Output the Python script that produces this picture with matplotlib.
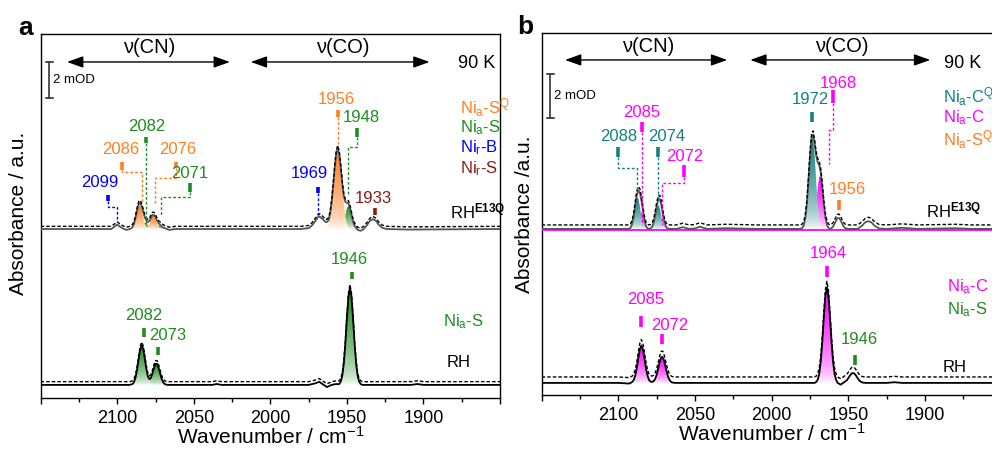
import numpy as np
import matplotlib
matplotlib.use('Agg')
import matplotlib.pyplot as plt
from matplotlib.colors import LinearSegmentedColormap
from matplotlib.patches import FancyArrowPatch
from matplotlib.ticker import FixedLocator

plt.rcParams['font.family'] = 'Liberation Sans'
plt.rcParams['mathtext.fontset'] = 'custom'
plt.rcParams['mathtext.rm'] = 'Liberation Sans'
plt.rcParams['mathtext.it'] = 'Liberation Sans:italic'
plt.rcParams['mathtext.bf'] = 'Liberation Sans:bold'

ORANGE = '#ff7f1f'
GREEN = '#1f8c1f'
BLUE = '#0000ff'
DARKRED = '#8b1a1a'
TEAL = '#158080'
MAGENTA = '#ff00ff'

# ---------------- panel a: RH (lower), mOD above its own baseline
rh_a = np.array([
    [2150, 0], [2120, 0], [2100, 0], [2092, 0], [2090, 0.05], [2089, 0.17], [2088, 0.42],
    [2087, 0.87], [2086, 1.46], [2085, 1.98], [2084, 2.2], [2083, 1.98], [2082, 1.46],
    [2081, 0.89], [2080, 0.47], [2079, 0.32], [2078, 0.39], [2077, 0.64], [2076, 0.95],
    [2075, 1.17], [2074, 1.17], [2073, 0.95], [2072, 0.63], [2071, 0.34], [2070, 0.15],
    [2069, 0.05], [2068, 0.01], [2066, 0], [2050, 0], [2038, 0], [2035, 0.05], [2032, 0],
    [2000, 0], [1980, 0], [1975, 0], [1971, 0.08], [1968, 0.17], [1966, 0.05],
    [1963, -0.12], [1960, 0], [1957, 0.05], [1956, 0.04], [1955, 0.05], [1954, 0.18],
    [1953, 0.51], [1952, 1.19], [1951, 2.31], [1950, 3.70], [1949, 4.91], [1948, 5.4],
    [1947, 4.91], [1946, 3.70], [1945, 2.31], [1944, 1.19], [1943, 0.51], [1942, 0.18],
    [1941, 0.05], [1940, 0], [1935, 0], [1908, 0], [1904, 0.05], [1900, 0], [1850, 0]])

# ---------------- panel a: RH E13Q (upper)
e13q_a = np.array([
    [2150, 0], [2120, 0], [2106, 0], [2104, 0], [2102, 0.12], [2100, 0.25], [2098, 0.12],
    [2096, 0.02], [2094, -0.05], [2092, 0], [2091, 0.03], [2090, 0.11], [2089, 0.29],
    [2088, 0.63], [2087, 1.05], [2086, 1.38], [2085, 1.45], [2084, 1.25], [2083, 0.94],
    [2082, 0.64], [2081, 0.48], [2080, 0.39], [2079, 0.45], [2078, 0.62], [2077, 0.78],
    [2076, 0.78], [2075, 0.64], [2074, 0.46], [2073, 0.32], [2072, 0.24], [2071, 0.15],
    [2070, 0.09], [2069, 0.05], [2068, 0.02], [2066, -0.05], [2062, 0], [2000, 0],
    [1980, 0], [1975, 0.05], [1973, 0.18], [1971, 0.4], [1969, 0.65], [1968, 0.7],
    [1966, 0.57], [1964, 0.39], [1963, 0.39], [1962, 0.48], [1961, 0.81], [1960, 1.44],
    [1959, 2.34], [1958, 3.34], [1957, 4.18], [1956, 4.5], [1955, 4.18], [1954, 3.40],
    [1953, 2.49], [1952, 1.80], [1951, 1.50], [1950, 1.46], [1949, 1.42], [1948, 1.19],
    [1947, 0.79], [1946, 0.42], [1945, 0.18], [1944, 0.06], [1943, -0.05], [1941, -0.1],
    [1939, 0], [1937, 0.2], [1935, 0.45], [1933, 0.55], [1931, 0.45], [1929, 0.22],
    [1927, 0.07], [1924, 0], [1910, -0.03], [1850, 0]])

# fitted components of RH E13Q
a_or_2086 = np.array([[2092, 0], [2091, 0.03], [2090, 0.11], [2089, 0.29], [2088, 0.62], [2087, 1.02],
                      [2086, 1.31], [2085, 1.31], [2084, 1.02], [2083, 0.62], [2082, 0.29],
                      [2081, 0.11], [2080, 0.03], [2079, 0]])
a_gr_2082 = np.array([[2088, 0], [2086, 0.07], [2085, 0.14], [2084, 0.23], [2083, 0.32], [2082, 0.35],
                      [2081, 0.32], [2080, 0.23], [2079, 0.14], [2078, 0.07], [2077, 0.03], [2075, 0]])
a_or_2076 = np.array([[2082, 0], [2081, 0.045], [2080, 0.13], [2079, 0.31], [2078, 0.55], [2077, 0.725],
                      [2076, 0.725], [2075, 0.55], [2074, 0.31], [2073, 0.13], [2072, 0.045], [2071, 0]])
a_gr_2071 = np.array([[2078, 0], [2077, 0.02], [2076, 0.05], [2075, 0.09], [2074, 0.15], [2073, 0.19],
                      [2072, 0.19], [2071, 0.15], [2070, 0.09], [2069, 0.05], [2068, 0.02], [2067, 0]])
a_or_1956 = np.array([[1965, 0], [1964, 0.04], [1963, 0.12], [1962, 0.31], [1961, 0.71], [1960, 1.38],
                      [1959, 2.31], [1958, 3.34], [1957, 4.18], [1956, 4.5], [1955, 4.18], [1954, 3.34],
                      [1953, 2.31], [1952, 1.38], [1951, 0.71], [1950, 0.31], [1949, 0.12],
                      [1948, 0.04], [1947, 0]])
a_gr_1948 = np.array([[1955, 0], [1954, 0.06], [1953, 0.18], [1952, 0.42], [1951, 0.79], [1950, 1.15],
                      [1949, 1.3], [1948, 1.15], [1947, 0.79], [1946, 0.42], [1945, 0.18],
                      [1944, 0.06], [1943, 0]])

# ---------------- panel b: RH E13Q (upper)
e13q_b = np.array([
    [2150, 0], [2120, 0], [2100, 0], [2094, 0], [2093, 0.01], [2092, 0.06], [2091, 0.22],
    [2090, 0.55], [2089, 1.06], [2088, 1.53], [2087, 1.74], [2086, 1.65], [2085, 1.30],
    [2084, 0.84], [2083, 0.40], [2082, 0.13], [2081, 0.03], [2080, 0], [2079, 0.02],
    [2078, 0.09], [2077, 0.27], [2076, 0.61], [2075, 1.03], [2074, 1.33], [2073, 1.35],
    [2072, 1.09], [2071, 0.68], [2070, 0.32], [2069, 0.11], [2068, 0.02], [2066, 0],
    [2062, 0], [2058, 0.08], [2054, 0], [2050, 0.02], [2047, 0.1], [2042, 0], [2030, 0.03],
    [2010, 0], [1981, 0], [1980, 0.05], [1979, 0.18], [1978, 0.52], [1977, 1.18],
    [1976, 2.20], [1975, 3.33], [1974, 4.14], [1973, 4.28], [1972, 3.86], [1971, 3.32],
    [1970, 3.03], [1969, 2.89], [1968, 2.55], [1967, 1.90], [1966, 1.12], [1965, 0.53],
    [1964, 0.19], [1963, 0.05], [1962, 0], [1961, 0.03], [1960, 0.1], [1959, 0.23],
    [1958, 0.38], [1957, 0.49], [1956, 0.49], [1955, 0.38], [1954, 0.23], [1953, 0.1],
    [1952, 0.03], [1950, 0], [1944, 0], [1941, 0.15], [1939, 0.3], [1937, 0.35],
    [1935, 0.3], [1933, 0.15], [1930, 0.02], [1925, 0], [1915, 0.05], [1905, 0],
    [1880, 0.03], [1870, 0], [1850, 0]])

b_te_2088 = np.array([[2093, 0], [2092, 0.06], [2091, 0.22], [2090, 0.55], [2089, 1.03], [2088, 1.40],
                      [2087, 1.40], [2086, 1.03], [2085, 0.55], [2084, 0.22], [2083, 0.06], [2082, 0]])
b_mg_2085 = np.array([[2090, 0], [2089, 0.03], [2088, 0.13], [2087, 0.34], [2086, 0.62], [2085, 0.75],
                      [2084, 0.62], [2083, 0.34], [2082, 0.13], [2081, 0.03], [2080, 0]])
b_te_2074 = np.array([[2080, 0], [2079, 0.02], [2078, 0.09], [2077, 0.27], [2076, 0.59], [2075, 0.94],
                      [2074, 1.1], [2073, 0.94], [2072, 0.59], [2071, 0.27], [2070, 0.09],
                      [2069, 0.02], [2068, 0]])
b_mg_2072 = np.array([[2077, 0], [2076, 0.02], [2075, 0.09], [2074, 0.23], [2073, 0.41], [2072, 0.5],
                      [2071, 0.41], [2070, 0.23], [2069, 0.09], [2068, 0.02], [2067, 0]])
b_te_1972 = np.array([[1981, 0], [1980, 0.05], [1979, 0.18], [1978, 0.52], [1977, 1.18], [1976, 2.20],
                      [1975, 3.33], [1974, 4.09], [1973, 4.09], [1972, 3.33], [1971, 2.20],
                      [1970, 1.18], [1969, 0.52], [1968, 0.18], [1967, 0.05], [1966, 0]])
b_mg_1968 = np.array([[1975, 0], [1974, 0.05], [1973, 0.19], [1972, 0.53], [1971, 1.12], [1970, 1.85],
                      [1969, 2.37], [1968, 2.37], [1967, 1.85], [1966, 1.12], [1965, 0.53],
                      [1964, 0.19], [1963, 0.05], [1962, 0]])

# ---------------- panel b: RH (lower)
rh_b = np.array([
    [2150, 0], [2120, 0], [2100, 0], [2093, -0.03], [2092, 0], [2091, 0.04], [2090, 0.13],
    [2089, 0.33], [2088, 0.67], [2087, 1.13], [2086, 1.53], [2085, 1.7], [2084, 1.53],
    [2083, 1.13], [2082, 0.67], [2081, 0.33], [2080, 0.13], [2079, 0.06], [2078, 0.04],
    [2077, 0.08], [2076, 0.18], [2075, 0.38], [2074, 0.66], [2073, 0.97], [2072, 1.17],
    [2071, 1.17], [2070, 0.97], [2069, 0.66], [2068, 0.38], [2067, 0.18], [2066, 0.07],
    [2065, 0.02], [2063, 0], [2000, 0], [1972, 0], [1971, 0.04], [1970, 0.14], [1969, 0.41],
    [1968, 0.96], [1967, 1.86], [1966, 2.98], [1965, 3.96], [1964, 4.35], [1963, 3.96],
    [1962, 2.98], [1961, 1.86], [1960, 0.96], [1959, 0.41], [1958, 0.14], [1957, 0],
    [1955, -0.08], [1953, 0.02], [1951, 0.12], [1950, 0.22], [1949, 0.33], [1948, 0.42],
    [1947, 0.45], [1946, 0.42], [1945, 0.33], [1944, 0.22], [1943, 0.12], [1942, 0.06],
    [1941, 0.02], [1939, 0], [1925, 0], [1920, 0.03], [1915, 0], [1850, 0]])

tick_major = [2150, 2100, 2050, 2000, 1950, 1900, 1850]
tick_labels = ['', '2100', '2050', '2000', '1950', '1900', '']
tick_minor = [2125, 2075, 2025, 1975, 1925, 1875]

# vertical stacking offsets (mOD)
A_RH, A_E13Q = 0.70, 9.36
B_RH, B_E13Q = 0.55, 7.55


def grad_fill(ax, pts, base, color, lo=None, hi=None, z=1.5):
    wn, ab = pts[:, 0], pts[:, 1]
    m = np.ones(len(wn), bool)
    if lo is not None:
        m = (wn >= lo) & (wn <= hi)
    x, y = wn[m], ab[m] + base
    poly = ax.fill_between(x, base, y, facecolor='none', edgecolor='none')
    cmap = LinearSegmentedColormap.from_list('g', ['white', color])
    grad = (np.linspace(0, 1, 256) ** 0.6).reshape(-1, 1)
    im = ax.imshow(grad, cmap=cmap, aspect='auto', origin='lower',
                   extent=[x.max(), x.min(), base, y.max()], zorder=z)
    im.set_clip_path(poly.get_paths()[0], transform=ax.transData)


def trace(ax, pts, base, color, shift):
    ax.plot(pts[:, 0], pts[:, 1] + base, color=color, lw=1.3, zorder=4)
    ax.plot(pts[:, 0], pts[:, 1] + base + shift, color='black', lw=1.0,
            ls=(0, (2.5, 1.5)), zorder=5)


def mark(ax, w, y0, y1, color):
    ax.plot([w, w], [y0, y1], color=color, lw=2.6, solid_capstyle='butt', zorder=6)


def leader(ax, xs, ys, color):
    ax.plot(xs, ys, color=color, lw=1.0, ls=(0, (2, 1.5)), zorder=6)


def label(ax, w, y, s, color, ha='center', size=12):
    ax.text(w, y, s, color=color, ha=ha, va='center', fontsize=size, zorder=7)


def frame(ax, ymax, ylab, scale_y):
    ax.set_xlim(2150, 1850)
    ax.set_ylim(0, ymax)
    ax.set_yticks([])
    ax.xaxis.set_major_locator(FixedLocator(tick_major))
    ax.set_xticklabels(tick_labels)
    ax.xaxis.set_minor_locator(FixedLocator(tick_minor))
    ax.tick_params(axis='x', which='major', direction='out', length=4.5, width=1,
                   labelsize=13, pad=4.5)
    ax.tick_params(axis='x', which='minor', direction='out', length=3, width=1)
    for s in ax.spines.values():
        s.set_linewidth(1.0)
    ax.set_xlabel('Wavenumber / cm$^{\\mathregular{-1}}$', fontsize=15)
    ax.xaxis.set_label_coords(0.5, -0.078)
    ax.set_ylabel(ylab, fontsize=15)
    # scale bar
    sx = 2144.3
    ax.plot([sx, sx], [scale_y, scale_y + 2], color='#333333', lw=1.2)
    ax.plot([sx - 2.2, sx + 2.2], [scale_y, scale_y], color='#333333', lw=1.2)
    ax.plot([sx - 2.2, sx + 2.2], [scale_y + 2, scale_y + 2], color='#333333', lw=1.2)
    ax.text(sx - 2.5, scale_y + 1, '2 mOD', fontsize=9.5, va='center', ha='left')


fig = plt.figure(figsize=(9.92, 4.5), dpi=100)
axa = fig.add_axes([40.7 / 992, 52.5 / 450, 459.3 / 992, 363.5 / 450])
axb = fig.add_axes([541.7 / 992, 55 / 450, 460 / 992, 362 / 450])

# ======================= panel a =======================
ax = axa
for lo, hi in [(2079, 2092), (2066, 2079), (1940, 1957)]:
    grad_fill(ax, rh_a, A_RH, GREEN, lo, hi)
for comp, col in [(a_gr_2082, GREEN), (a_gr_2071, GREEN), (a_gr_1948, GREEN),
                  (a_or_2086, ORANGE), (a_or_2076, ORANGE), (a_or_1956, ORANGE)]:
    grad_fill(ax, comp, A_E13Q, col)
trace(ax, e13q_a, A_E13Q, '#555555', 0.15)
trace(ax, rh_a, A_RH, 'black', 0.18)

# upper annotations
label(ax, 2111.3, 11.92, '2099', BLUE)
mark(ax, 2106.1, 10.92, 11.25, BLUE)
leader(ax, [2106.1, 2106.1, 2100.2, 2100.2], [10.92, 10.58, 10.58, 9.85], BLUE)
label(ax, 2097.6, 13.75, '2086', ORANGE)
mark(ax, 2096.9, 12.64, 13.08, ORANGE)
leader(ax, [2096.9, 2096.9, 2084.1, 2084.1], [12.64, 12.51, 12.51, 10.81], ORANGE)
label(ax, 2080.6, 15.08, '2082', GREEN)
mark(ax, 2081.3, 14.14, 14.47, GREEN)
leader(ax, [2081.3, 2081.3], [14.14, 9.5], GREEN)
label(ax, 2060.4, 13.75, '2076', ORANGE)
mark(ax, 2061.7, 12.75, 13.08, ORANGE)
leader(ax, [2061.7, 2061.7, 2075.4, 2075.4], [12.75, 12.19, 12.19, 10.69], ORANGE)
label(ax, 2052.6, 12.47, '2071', GREEN)
mark(ax, 2052.6, 11.42, 11.92, GREEN)
leader(ax, [2052.6, 2052.6, 2071.5, 2071.5], [11.42, 11.14, 11.14, 10.14], GREEN)
label(ax, 1956.6, 16.53, '1956', ORANGE)
mark(ax, 1956.0, 15.58, 15.97, ORANGE)
leader(ax, [1956.0, 1956.0], [15.58, 14.0], ORANGE)
label(ax, 1940.3, 15.53, '1948', GREEN)
mark(ax, 1943.6, 14.47, 14.97, GREEN)
leader(ax, [1943.6, 1943.6, 1949.4, 1949.4], [14.47, 13.92, 13.92, 11.25], GREEN)
label(ax, 1974.2, 12.47, '1969', BLUE)
mark(ax, 1969.0, 11.36, 11.69, BLUE)
leader(ax, [1969.0, 1969.0], [11.36, 10.14], BLUE)
label(ax, 1933.0, 11.08, '1933', DARKRED)
mark(ax, 1931.8, 10.14, 10.53, DARKRED)

label(ax, 1876.2, 16.08, 'Ni$_\\mathregular{a}$-S$^\\mathregular{Q}$', ORANGE, 'left')
label(ax, 1876.2, 14.97, 'Ni$_\\mathregular{a}$-S', GREEN, 'left')
label(ax, 1876.2, 13.86, 'Ni$_\\mathregular{r}$-B', BLUE, 'left')
label(ax, 1876.2, 12.70, 'Ni$_\\mathregular{r}$-S', DARKRED, 'left')
label(ax, 1882.7, 10.31, 'RH$^{\\mathbf{E13Q}}$', 'black', 'left')

# lower annotations
label(ax, 2082.5, 4.53, '2082', GREEN)
mark(ax, 2082.6, 3.36, 3.86, GREEN)
label(ax, 2066.9, 3.42, '2073', GREEN)
mark(ax, 2073.4, 2.36, 2.81, GREEN)
label(ax, 1948.2, 7.64, '1946', GREEN)
mark(ax, 1946.8, 6.58, 6.97, GREEN)
label(ax, 1887.2, 4.19, 'Ni$_\\mathregular{a}$-S', GREEN, 'left')
label(ax, 1884.6, 1.92, 'RH', 'black', 'left')

frame(ax, 363.5 / 18, 'Absorbance / a.u.', 16.64)
ax.yaxis.set_label_coords(-0.027, 0.506)
for x0, x1, xm, name in [(2132.8, 2026.4, 2079, '\u03bd(CN)'), (2012.8, 1896, 1952.6, '\u03bd(CO)')]:
    ax.add_patch(FancyArrowPatch((x0, 18.64), (x1, 18.64), arrowstyle='<|-|>,head_length=0.7,head_width=0.25',
                                 mutation_scale=14, lw=1.0, color='black', shrinkA=0, shrinkB=0))
    ax.text(xm, 19.47, name, ha='center', va='center', fontsize=14.5)
ax.text(1853.4, 18.58, '90 K', ha='right', va='center', fontsize=13)

# ======================= panel b =======================
ax = axb
for lo, hi in [(2079, 2093), (2063, 2079), (1957, 1972)]:
    grad_fill(ax, rh_b, B_RH, MAGENTA, lo, hi)
for comp, col in [(b_mg_2085, MAGENTA), (b_mg_2072, MAGENTA), (b_mg_1968, MAGENTA),
                  (b_te_2088, TEAL), (b_te_2074, TEAL), (b_te_1972, TEAL)]:
    grad_fill(ax, comp, B_E13Q, col)
ax.plot([2150, 1850], [B_E13Q - 0.05, B_E13Q - 0.05], color=MAGENTA, lw=1.3, zorder=3)
trace(ax, e13q_b, B_E13Q, '#555555', 0.18)
trace(ax, rh_b, B_RH, 'black', 0.27)

label(ax, 2100.1, 11.73, '2088', TEAL)
mark(ax, 2100.2, 10.82, 11.27, TEAL)
leader(ax, [2100.2, 2100.2, 2088.0, 2088.0], [10.82, 10.32, 10.32, 9.32], TEAL)
label(ax, 2084.6, 12.86, '2085', MAGENTA)
mark(ax, 2084.6, 11.95, 12.41, MAGENTA)
leader(ax, [2084.6, 2084.6], [11.95, 7.73], MAGENTA)
label(ax, 2068.2, 11.73, '2074', TEAL)
mark(ax, 2074.1, 10.82, 11.27, TEAL)
leader(ax, [2074.1, 2074.1], [10.82, 8.86], TEAL)
label(ax, 2056.5, 10.86, '2072', MAGENTA)
mark(ax, 2057.2, 9.91, 10.45, MAGENTA)
leader(ax, [2057.2, 2057.2, 2071.7, 2071.7], [9.91, 9.64, 9.64, 7.73], MAGENTA)
label(ax, 1975.0, 13.41, '1972', TEAL)
mark(ax, 1973.7, 12.41, 12.86, TEAL)
label(ax, 1956.6, 14.18, '1968', MAGENTA)
mark(ax, 1960.0, 13.27, 13.86, MAGENTA)
leader(ax, [1960.0, 1960.0, 1962.4, 1962.4], [13.27, 12.05, 12.05, 10.5], MAGENTA)
label(ax, 1950.7, 9.32, '1956', ORANGE)
mark(ax, 1956.0, 8.41, 8.86, ORANGE)

label(ax, 1888.5, 13.55, 'Ni$_\\mathregular{a}$-C$^\\mathregular{Q}$', TEAL, 'left')
label(ax, 1888.5, 12.59, 'Ni$_\\mathregular{a}$-C', MAGENTA, 'left')
label(ax, 1888.5, 11.59, 'Ni$_\\mathregular{a}$-S$^\\mathregular{Q}$', ORANGE, 'left')
label(ax, 1899.5, 8.41, 'RH$^{\\mathbf{E13Q}}$', 'black', 'left')

label(ax, 2081.9, 4.36, '2085', MAGENTA)
mark(ax, 2085.2, 3.09, 3.59, MAGENTA)
label(ax, 2066.2, 3.18, '2072', MAGENTA)
mark(ax, 2071.5, 2.32, 2.77, MAGENTA)
label(ax, 1963.3, 6.45, '1964', MAGENTA)
mark(ax, 1963.9, 5.36, 5.86, MAGENTA)
label(ax, 1943.0, 2.5, '1946', GREEN)
mark(ax, 1945.6, 1.36, 1.82, GREEN)
label(ax, 1885.5, 4.91, 'Ni$_\\mathregular{a}$-C', MAGENTA, 'left')
label(ax, 1885.5, 3.86, 'Ni$_\\mathregular{a}$-S', GREEN, 'left')
label(ax, 1888.6, 1.27, 'RH', 'black', 'left')

frame(ax, 362 / 22, 'Absorbance /a.u.', 12.59)
ax.yaxis.set_label_coords(-0.016, 0.5)
for x0, x1, xm, name in [(2134.8, 2029, 2080.6, '\u03bd(CN)'), (2014, 1896.6, 1954, '\u03bd(CO)')]:
    ax.add_patch(FancyArrowPatch((x0, 15.23), (x1, 15.23), arrowstyle='<|-|>,head_length=0.7,head_width=0.25',
                                 mutation_scale=14, lw=1.0, color='black', shrinkA=0, shrinkB=0))
    ax.text(xm, 15.82, name, ha='center', va='center', fontsize=14.5)
ax.text(1887.5, 15.09, '90 K', ha='left', va='center', fontsize=13)

fig.text(26 / 992, 1 - 28 / 450, 'a', fontsize=19, fontweight='bold', ha='center', va='center')
fig.text(525 / 992, 1 - 27 / 450, 'b', fontsize=19, fontweight='bold', ha='center', va='center')

fig.savefig('out.png', dpi=100)
